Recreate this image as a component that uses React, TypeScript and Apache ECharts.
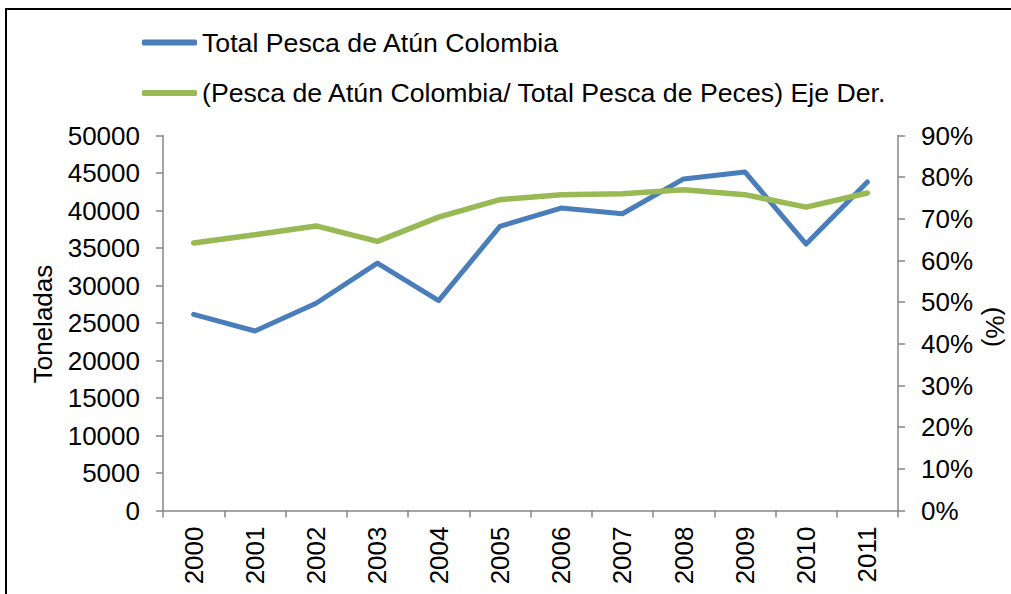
import React, { useEffect, useRef } from "react";
import * as echarts from "echarts";

const years = ["2000", "2001", "2002", "2003", "2004", "2005", "2006", "2007", "2008", "2009", "2010", "2011"];
const totalAtun = [26150, 23930, 27630, 32980, 27980, 37880, 40330, 39570, 44210, 45140, 35520, 43810];
const ratioAtun = [0.642, 0.662, 0.683, 0.646, 0.704, 0.746, 0.758, 0.760, 0.770, 0.758, 0.728, 0.762];
const seriesNames = ["Total Pesca de Atún Colombia", "(Pesca de Atún Colombia/ Total Pesca de Peces) Eje Der."];
const leftAxisName = "Toneladas";
const rightAxisName = "(%)";

const FONT = "'Liberation Sans', Arial, sans-serif";
const AXIS_COLOR = "#868686";

export default function App() {
  const ref = useRef<HTMLDivElement>(null);
  useEffect(() => {
    if (!ref.current) return;
    const chart = echarts.init(ref.current, undefined, { renderer: "svg" });
    chart.setOption({
      animation: false,
      backgroundColor: "#ffffff",
      textStyle: { fontFamily: FONT },
      legend: {
        orient: "vertical",
        left: 137,
        top: 24,
        itemWidth: 55,
        itemHeight: 6,
        itemGap: 23.5,
        icon: "roundRect",
        textStyle: { fontFamily: FONT, fontSize: 26.7, color: "#000" },
        data: seriesNames,
      },
      grid: { left: 163, right: 113, top: 135.5, bottom: 83.5, containLabel: false },
      xAxis: {
        type: "category",
        data: years,
        boundaryGap: true,
        axisLine: { lineStyle: { color: AXIS_COLOR, width: 1.5 } },
        axisTick: { show: true, length: 7, lineStyle: { color: AXIS_COLOR, width: 1.5 } },
        axisLabel: { rotate: 90, margin: 16, fontSize: 26, color: "#000", fontFamily: FONT },
      },
      yAxis: [
        {
          type: "value",
          min: 0,
          max: 50000,
          interval: 5000,
          position: "left",
          splitLine: { show: false },
          axisLine: { show: true, lineStyle: { color: AXIS_COLOR, width: 1.5 } },
          axisTick: { show: true, length: 7, lineStyle: { color: AXIS_COLOR, width: 1.5 } },
          axisLabel: {
            margin: 23,
            fontSize: 26,
            color: "#000",
            fontFamily: FONT,
            formatter: (v: number) => String(v),
          },
        },
        {
          type: "value",
          min: 0,
          max: 0.9,
          interval: 0.1,
          position: "right",
          splitLine: { show: false },
          axisLine: { show: true, lineStyle: { color: AXIS_COLOR, width: 1.5 } },
          axisTick: { show: true, length: 7, lineStyle: { color: AXIS_COLOR, width: 1.5 } },
          axisLabel: {
            margin: 23,
            fontSize: 26,
            color: "#000",
            fontFamily: FONT,
            formatter: (v: number) => Math.round(v * 100) + "%",
          },
        },
      ],
      series: [
        {
          name: seriesNames[0],
          type: "line",
          yAxisIndex: 0,
          data: totalAtun,
          symbol: "none",
          lineStyle: { color: "#4A7EBB", width: 5, cap: "round", join: "round" },
          itemStyle: { color: "#4A7EBB" },
        },
        {
          name: seriesNames[1],
          type: "line",
          yAxisIndex: 1,
          data: ratioAtun,
          symbol: "none",
          lineStyle: { color: "#98B954", width: 5.5, cap: "round", join: "round" },
          itemStyle: { color: "#98B954" },
        },
      ],
      graphic: [
        {
          type: "rect",
          shape: { x: 6, y: 9, width: 1200, height: 800 },
          style: { fill: "none", stroke: "#000", lineWidth: 2 },
          silent: true,
        },
        {
          type: "text",
          x: 43,
          y: 324,
          rotation: Math.PI / 2,
          style: {
            text: leftAxisName,
            fontFamily: FONT,
            fontSize: 26,
            fill: "#000",
            textAlign: "center",
            textVerticalAlign: "middle",
          },
        },
        {
          type: "text",
          x: 995,
          y: 327,
          rotation: -Math.PI / 2,
          style: {
            text: rightAxisName,
            fontFamily: FONT,
            fontSize: 26,
            fill: "#000",
            textAlign: "center",
            textVerticalAlign: "middle",
          },
        },
      ],
    });
    return () => chart.dispose();
  }, []);
  return (
    <div
      ref={ref}
      style={{ position: "fixed", left: 0, top: 0, width: 1011, height: 594 }}
    />
  );
}
